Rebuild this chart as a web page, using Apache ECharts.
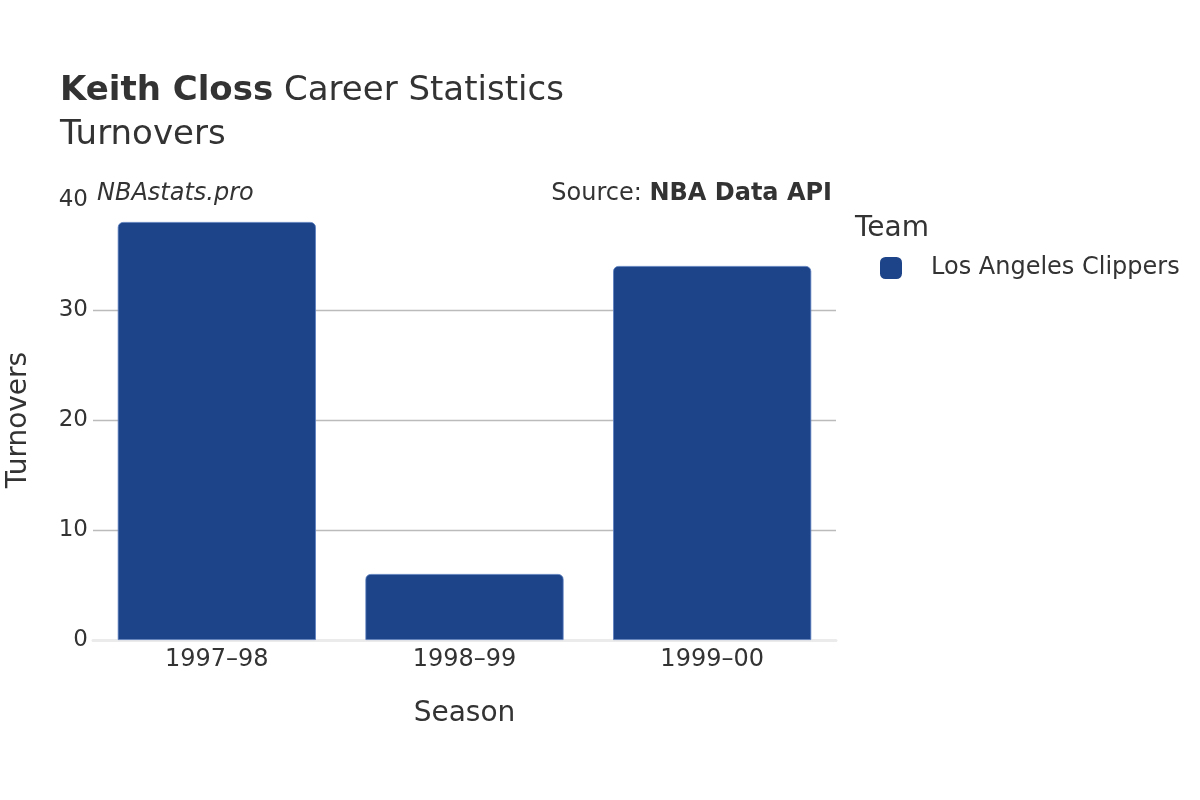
<!DOCTYPE html>
<html>
<head>
<meta charset="utf-8">
<script src="https://cdn.jsdelivr.net/npm/echarts@6/dist/echarts.min.js"></script>
<style>html,body{margin:0;padding:0;background:#fff}#c{width:1200px;height:800px}</style>
</head>
<body>
<div id="c"></div>
<script>
const seasons = ["1997–98", "1998–99", "1999–00"];
const turnovers = [38, 6, 34];
const teamName = "Los Angeles Clippers";
const yTicks = [0, 10, 20, 30, 40];

const FONT = "DejaVu Sans";
const chart = echarts.init(document.getElementById('c'));
chart.setOption({
  backgroundColor: '#fff',
  textStyle: {fontFamily: FONT},
  animation: false,
  title: [
    {left: 55, top: 69, text: '{b|Keith Closs} Career Statistics', textStyle: {fontFamily: FONT, fontSize: 34, fontWeight: 'normal', color: '#333', rich: {b: {fontFamily: FONT, fontSize: 34, fontWeight: 'bold', color: '#333'}}}},
    {left: 55, top: 113, text: 'Turnovers', textStyle: {fontFamily: FONT, fontSize: 34, fontWeight: 'normal', color: '#333'}},
    {left: 92, top: 177, text: 'NBAstats.pro', textStyle: {fontFamily: FONT, fontSize: 24, fontStyle: 'italic', fontWeight: 'normal', color: '#333'}},
    {right: 363, top: 177, text: 'Source: {b|NBA Data API}', textStyle: {fontFamily: FONT, fontSize: 24, fontWeight: 'normal', color: '#333', rich: {b: {fontFamily: FONT, fontSize: 24, fontWeight: 'bold', color: '#333'}}}},
    {left: 850, top: 210, text: 'Team', textStyle: {fontFamily: FONT, fontSize: 28, fontWeight: 'normal', color: '#333'}}
  ],
  legend: {
    left: 875, top: 251, orient: 'vertical',
    icon: 'roundRect', itemWidth: 22, itemHeight: 22, itemGap: 10,
    itemStyle: {borderWidth: 0},
    textStyle: {fontFamily: FONT, fontSize: 24, color: '#333', padding: [0, 0, 0, 24]},
    data: [teamName]
  },
  grid: {left: 93, right: 364, top: 200, bottom: 160, containLabel: false, outerBoundsMode: 'none'},
  xAxis: {
    type: 'category', data: seasons,
    name: 'Season', nameLocation: 'middle', nameGap: 60,
    nameTextStyle: {fontFamily: FONT, fontSize: 28, color: '#333'},
    axisLine: {show: true, lineStyle: {color: '#ebebeb', width: 3}},
    axisTick: {show: false},
    axisLabel: {fontFamily: FONT, fontSize: 24, color: '#333', margin: 8}
  },
  yAxis: {
    type: 'value', min: yTicks[0], max: yTicks[yTicks.length - 1], interval: 10,
    name: 'Turnovers', nameLocation: 'middle', nameGap: 60, nameRotate: 90,
    nameTextStyle: {fontFamily: FONT, fontSize: 28, color: '#333'},
    axisLine: {show: false}, axisTick: {show: false},
    axisLabel: {fontFamily: FONT, fontSize: 23, color: '#333', margin: 5},
    splitLine: {show: true, showMinLine: false, showMaxLine: false, lineStyle: {color: '#bbbbbb', width: 1.3}}
  },
  series: [{
    name: teamName, type: 'bar', data: turnovers,
    barCategoryGap: '20%',
    itemStyle: {color: '#1d4388', borderColor: '#5a7fbf', borderWidth: 0.8, borderRadius: [5, 5, 0, 0]}
  }]
});
</script>
</body>
</html>
